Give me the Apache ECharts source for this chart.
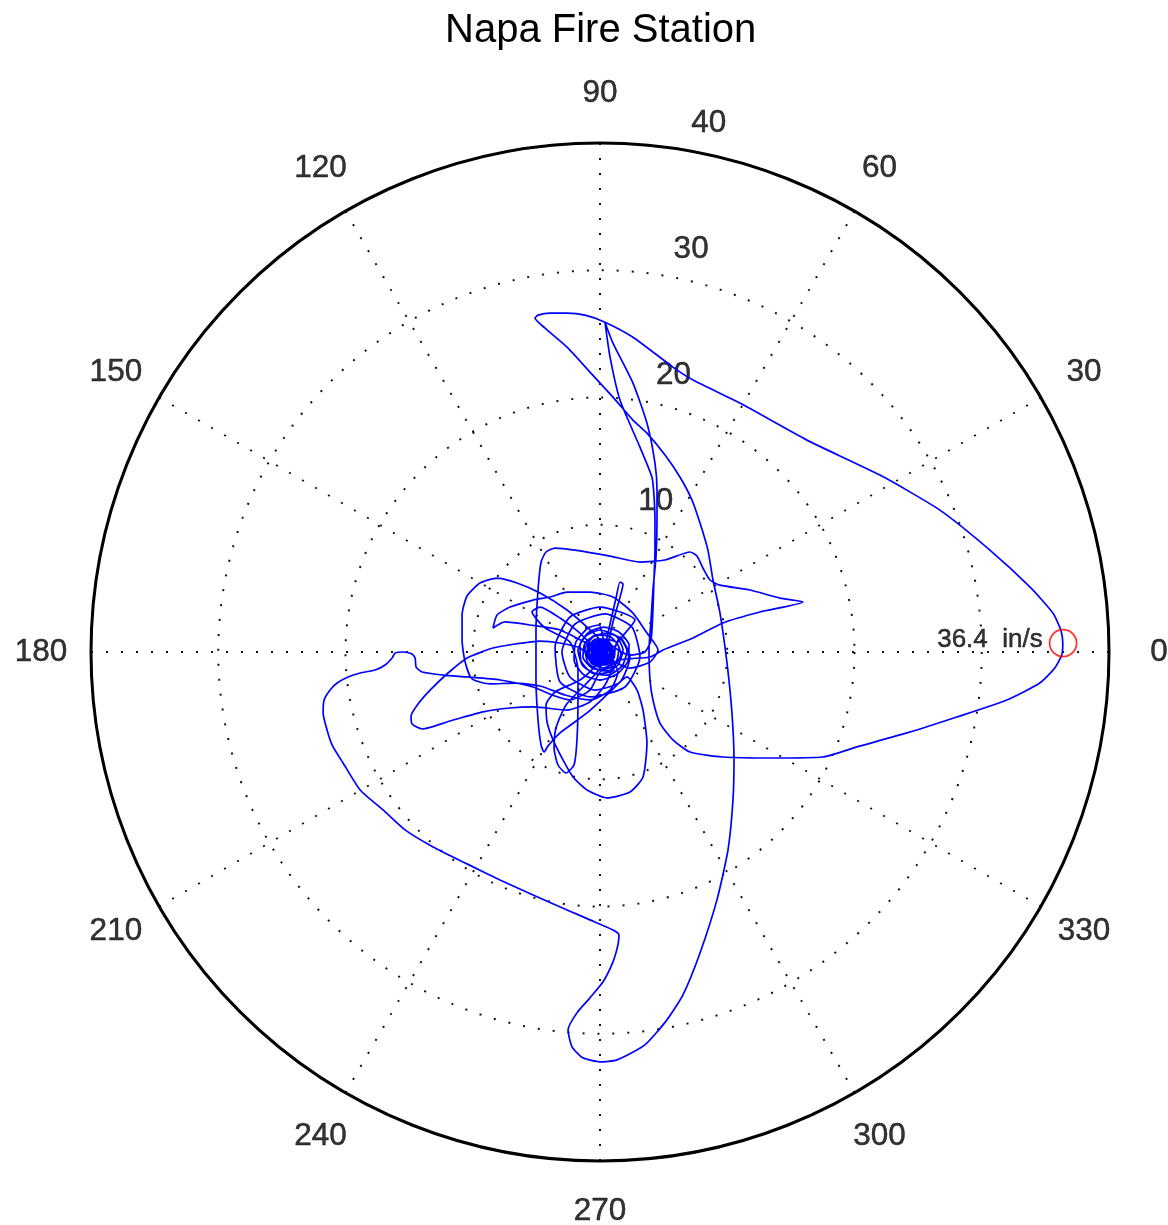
<!DOCTYPE html>
<html>
<head>
<meta charset="utf-8">
<script src="https://cdn.jsdelivr.net/npm/echarts@6/dist/echarts.min.js"></script>
<style>
html,body{margin:0;padding:0;background:#ffffff;}
#chart{width:1168px;height:1225px;}
</style>
</head>
<body>
<div id="chart"></div>
<script>
// ---------------- data ----------------
const chartTitle = 'Napa Fire Station';
const angleTicks = [0, 30, 60, 90, 120, 150, 180, 210, 240, 270, 300, 330];
const radialTicks = [10, 20, 30, 40];
const peakSpeed = 36.4;      // in/s
const peakAngle = 1.1;       // degrees
const speedUnit = 'in/s';

// horizontal particle-velocity path: [east, north] in in/s
const velocityPath = [
  // dense core
  [0,0],[0.39,0.24],[0.63,-0.16],[0.31,-0.55],[-0.24,-0.47],[-0.55,-0.08],[-0.39,0.39],[0.08,0.63],[0.55,0.47],[0.79,0],
  [0.55,-0.55],[0,-0.79],[-0.63,-0.55],[-0.86,0],[-0.55,0.63],[0.08,0.86],[0.71,0.63],[0.94,0.08],[0.71,-0.63],[0.16,-0.94],
  [-0.47,-0.79],[-0.94,-0.31],[-0.79,0.39],[-0.24,0.71],[0.31,0.39],[0.16,-0.16],[-0.24,0.16],[0,0.39],[0.47,0.08],[0.24,-0.39],
  [-0.31,-0.31],[-0.47,0.16],[-0.08,0.47],[0.39,0.31],[0.55,-0.24],[0.16,-0.55],[-0.39,-0.39],[-0.71,0.08],[-0.39,0.55],[0.16,0.71],
  [0.79,0.39],[1.02,-0.24],[0.63,-0.79],[-0.08,-1.02],[-0.79,-0.71],[-1.02,0.08],[-0.63,0.79],[0,1.02],[0.63,0.79],[0.39,0],
  [0.24,-0.16],[0.71,0.24],[0.47,0.79],[-0.16,0.63],[-0.63,0.16],[-0.47,-0.47],[0.16,-0.71],[0.79,-0.39],[1.02,0.31],[0.55,0.94],
  [-0.31,1.02],[-0.94,0.47],[-1.02,-0.31],[-0.39,-0.94],[0.47,-1.02],[1.10,-0.47],[1.18,0.47],[0.31,0.24],[-0.24,-0.16],[0.08,-0.39],
  [0.47,-0.08],[0.16,0.39],[-0.39,0.31],[-0.71,-0.24],[-0.24,-0.71],[0.55,-0.71],[0.86,0.08],[0.39,0.63],[-0.47,0.71],[-0.86,0.08],
  [0.31,0.16],[0.47,-0.24],[0.16,-0.47],[-0.31,-0.39],[-0.47,0],[-0.24,0.39],[0.24,0.47],[0.55,0.24],[0.63,-0.31],[0.24,-0.63],
  [-0.31,-0.63],[-0.63,-0.24],[-0.63,0.31],[-0.16,0.63],[0.39,0.63],[0.71,0.16],[0.08,0.08],[-0.08,-0.16],[0.24,-0.16],[0,0.24],
  // early scribble
  [0,0],[0.47,0.47],[1.02,0.16],[0.86,-0.63],[0.08,-0.94],[-0.63,-0.39],[-0.55,0.55],[0.31,1.02],[1.26,0.79],[1.65,-0.16],
  [1.10,-1.10],[0,-1.41],[-0.94,-0.86],[-1.18,0.24],[-0.55,1.18],[0.55,1.49],[1.57,1.10],[2.12,0.08],[1.73,-1.10],[0.63,-1.81],
  [-0.63,-1.65],[-1.49,-0.71],[-1.57,0.55],[-0.86,1.57],[0.31,1.96],[1.49,1.57],[2.28,0.55],[2.20,-0.71],[1.34,-1.73],[0,-2.20],
  [-1.26,-1.81],[-2.04,-0.63],[-1.89,0.79],[-0.94,1.89],[-0.08,2.12],[0.24,0.94],[-0.24,0],[0.39,-0.39],[0.71,0.31],[0,0.55],
  [-0.31,-0.24],[0.24,-0.71],[0.86,-0.24],[0.47,0.55],[-0.39,0.31],[-0.16,-0.63],[0.94,-0.79],[1.18,0.31],
  // medium loops around the core
  [1.57,1.18],[2.36,-0.39],[1.57,-2.36],[-0.39,-2.99],[-2.36,-1.96],[-2.99,0],[-1.96,2.20],[0.39,2.99],[2.51,1.96],[3.14,-0.39],
  [1.96,-2.75],[-0.79,-3.53],[-3.14,-2.36],[-3.53,0.39],[-2.36,2.75],[0,3.53],[2.75,2.51],[1.18,0.39],
  // north excursion and big east lobe
  [2.36,-0.24],[3.53,0],[4.01,0.94],[4.16,3.30],[4.24,5.66],[4.32,8.01],[4.32,10.37],[4.24,12.33],[4.08,13.75],[3.14,16.10],
  [1.57,19.80],[0.79,23.17],[0.39,25.92],[1.02,24.27],[2.59,21.13],[3.69,17.99],[4.32,14.85],[4.48,12.73],[4.48,10.37],[4.40,7.46],
  [4.16,4.87],[4.01,2.51],[3.85,0.16],[3.93,-2.20],[4.16,-3.77],[4.71,-5.58],[5.73,-6.91],[7.07,-7.86],[9.66,-8.25],[13.59,-8.33],
  [17.52,-8.25],[20.19,-7.46],[24.12,-6.36],[28.04,-5.11],[31.97,-3.77],[34.56,-2.44],[35.74,-1.26],[36.29,-0.24],[36.37,0.71],[36.21,1.73],
  [35.59,3.06],[33.78,5.11],[30.64,8.01],[26.71,11.15],[22.00,13.90],[16.26,16.65],[11.00,19.56],[7.31,21.37],[5.73,22.39],[2.59,24.74],
  [0.39,25.92],[-1.18,26.47],[-2.59,26.63],[-3.93,26.63],[-4.87,26.47],[-5.11,26.24],[-4.32,25.45],[-2.59,23.96],[-0.79,22.00],[1.02,20.03],
  [2.59,18.22],[3.69,17.20],[5.11,15.48],[6.28,13.75],[7.23,11.94],[7.86,10.13],[8.48,8.01],[8.88,5.66],[9.43,3.06],[9.98,-0.86],
  [10.37,-4.79],[10.53,-8.48],[10.45,-11.63],[10.06,-15.55],[9.19,-19.48],[7.86,-23.65],[6.52,-26.94],[5.26,-28.91],[3.53,-30.87],[1.34,-32.05],
  [0,-32.21],[-1.34,-31.89],[-2.20,-31.03],[-2.51,-29.69],[-1.81,-28.36],[-0.79,-27.18],[0.24,-25.92],[1.02,-24.35],[1.41,-23.02],[1.49,-22.23],
  [1.02,-21.84],[-0.79,-21.05],[-2.59,-20.27],[-5.26,-19.09],[-7.86,-17.91],[-10.45,-16.65],[-13.12,-15.32],[-15.32,-13.98],[-17.05,-12.41],[-18.85,-10.84],
  [-20.19,-8.72],[-21.05,-7.31],[-21.45,-6.13],[-21.76,-4.79],[-21.68,-3.77],[-21.21,-2.99],[-20.66,-2.44],[-19.80,-1.96],[-18.85,-1.65],[-17.67,-1.41],
  [-16.89,-1.02],[-16.34,-0.47],[-16.10,-0.08],[-15.48,0],[-14.77,-0.16],[-14.53,-0.47],[-14.45,-1.18],[-13.98,-1.57],[-12.33,-1.81],[-10.45,-1.96],
  [-7.86,-2.20],[-5.26,-2.75],[-3.77,-3.38],[-2.36,-3.77],[-0.79,-2.99],[0,-1.57],
  // east spike, box and south loop
  [1.57,-0.63],[3.93,-0.39],[4.95,0.16],[7.31,1.10],[9.66,2.28],[12.57,3.14],[15.95,3.93],[14.14,4.24],[11.78,4.87],[9.43,5.26],
  [8.64,5.66],[8.09,6.60],[7.62,7.54],[7.07,7.86],[5.11,7.23],[3.14,7.07],[0.79,7.54],[-1.96,8.01],[-3.53,8.17],[-4.24,7.86],
  [-4.63,7.07],[-4.87,4.87],[-5.03,1.73],[-5.03,-2.20],[-4.87,-5.34],[-4.63,-7.31],[-4.40,-7.86],[-4.08,-7.38],[-3.14,-6.36],[-1.02,-4.79],
  [0.79,-3.14],[2.12,-1.96],[2.91,-2.99],[3.38,-4.56],[3.69,-7.15],[3.38,-9.82],[2.36,-11.00],[0.55,-11.47],[-1.02,-10.84],[-2.12,-9.82],
  [-2.91,-8.48],[-3.69,-6.91],[-4.16,-5.50],[-4.24,-4.16],[-3.53,-3.14],[-1.57,-2.20],[-0.39,-1.02],
  // thin west lobe
  [-1.57,0.31],[-3.14,0.71],[-4.71,0.86],[-6.68,0.63],[-8.41,0.31],[-10.45,-0.47],[-11.94,-1.65],[-13.35,-2.99],[-14.30,-4.08],[-14.85,-5.03],
  [-14.77,-5.66],[-13.98,-6.05],[-11.78,-5.42],[-9.19,-4.71],[-7.07,-4.40],[-5.26,-4.32],[-2.59,-4.56],[-0.79,-3.93],[0.39,-2.59],[0.94,-1.26],
  // north-west loop
  [0,0.94],[-1.02,1.96],[-2.59,3.30],[-4.71,4.63],[-6.52,5.42],[-8.09,5.81],[-9.43,5.42],[-10.45,4.40],[-10.84,2.91],[-10.84,0.94],
  [-10.60,-0.79],[-10.06,-2.12],[-8.64,-2.51],[-6.68,-2.44],[-4.71,-2.67],[-2.75,-3.38],[-0.79,-3.77],[0.79,-2.99],[1.41,-1.57],
  // small inner loop
  [0.39,0],[-0.79,0.55],[-3.14,1.73],[-5.50,2.12],[-7.46,2.36],[-8.41,1.89],[-8.09,2.91],[-7.07,3.53],[-5.26,4.08],[-3.93,4.32],
  [-2.59,4.71],[-0.79,4.71],[1.02,4.32],[2.59,3.06],[3.69,1.49],[4.56,0.16],[3.93,-0.79],[2.36,-1.26],
  [-0.24,0.16],[-1.57,1.49],[-3.14,2.67],[-4.71,3.53],[-5.34,3.14],[-4.32,1.89],[-2.36,0.79],
  // south U
  [-1.73,-1.41],[-1.73,-3.77],[-1.81,-6.91],[-2.04,-8.88],[-2.67,-9.51],[-3.30,-8.88],[-3.61,-7.54],[-3.46,-5.97],[-2.67,-4.16],[-1.18,-2.59],[0,-1.26],
  // thin north spike
  [0.47,0.79],[0.86,2.51],[1.26,4.24],[1.57,5.50],[1.81,5.34],[1.49,4.01],[1.02,2.36],[0.55,0.55],
  // late scribble
  [-0.31,0.16],[-0.79,-0.47],[-0.16,-1.10],[0.71,-0.79],[1.02,0.08],[0.47,0.94],[-0.47,0.86],[-1.02,0.08],[-0.71,-0.86],[0.24,-1.26],
  [1.26,-0.79],[1.49,0.31],[0.86,1.18],[-0.24,1.34],[-1.18,0.71],[-1.34,-0.39],[-0.63,-1.26],[0.55,-1.49],[1.41,-1.02],[1.81,0.16],
  [1.26,1.26],[0,1.73],[-1.10,1.26],[-1.73,0.16],[-1.34,-1.10],[-0.16,-1.73],[1.10,-1.41],[0.31,-0.31],[-0.08,0.08],[0.24,0.39],[-0.16,-0.08]
];

// ---------------- layout ----------------
const CX = 600, CY = 652, R = 509, RMAX = 40;
const LABEL_R = RMAX * 559 / R;   // angle labels sit just outside the rim
const FONT = '"Liberation Sans", Arial, Helvetica, sans-serif';
const dotted = { color: '#111111', width: 2, type: [2, 13] };
const labelText = { color: '#000000', fontFamily: FONT, textBorderColor: '#000000', textBorderWidth: 0.5, textShadowBlur: 0 };

const chart = echarts.init(document.getElementById('chart'), null, { renderer: 'canvas' });

chart.setOption({
  backgroundColor: '#ffffff',
  animation: false,
  title: {
    text: chartTitle,
    left: 440,
    top: 6,
    textStyle: { fontFamily: FONT, fontSize: 40, fontWeight: 'normal', color: '#000' }
  },
  polar: { center: [CX, CY], radius: R },
  angleAxis: {
    type: 'value', min: 0, max: 360, interval: 30,
    startAngle: 0, clockwise: false,
    axisLine: { show: true, lineStyle: { color: '#000', width: 3 } },
    axisTick: { show: false },
    axisLabel: { show: false },
    splitLine: { show: true, lineStyle: dotted }
  },
  radiusAxis: {
    type: 'value', min: 0, max: RMAX, interval: 10,
    axisLine: { show: false }, axisTick: { show: false }, axisLabel: { show: false },
    splitLine: { show: true, lineStyle: dotted }
  },
  grid: { left: CX - R, top: CY - R, width: 2 * R, height: 2 * R, containLabel: false },
  xAxis: { type: 'value', min: -RMAX, max: RMAX, show: false },
  yAxis: { type: 'value', min: -RMAX, max: RMAX, show: false },
  series: [
    {
      name: 'angle labels', type: 'scatter', coordinateSystem: 'polar', clip: false,
      symbolSize: 0, silent: true, itemStyle: { color: '#000' },
      data: angleTicks.map(a => [LABEL_R, a]),
      label: Object.assign({ show: true, position: 'inside', fontSize: 31.5,
        formatter: p => String(p.value[1]) }, labelText)
    },
    {
      name: 'radius labels', type: 'scatter', coordinateSystem: 'polar', clip: false,
      symbolSize: 0, silent: true, itemStyle: { color: '#000' },
      data: radialTicks.map(v => [v, 82]),
      label: Object.assign({ show: true, position: 'inside', offset: [38, -25], fontSize: 31.5,
        formatter: p => String(p.value[0]) }, labelText)
    },
    {
      name: 'velocity', type: 'line', xAxisIndex: 0, yAxisIndex: 0,
      data: velocityPath, showSymbol: false, smooth: 0.2, clip: false,
      lineStyle: { color: '#0000ff', width: 1.7 }, z: 3
    },
    {
      name: 'peak', type: 'scatter', coordinateSystem: 'polar', clip: false,
      data: [[peakSpeed, peakAngle]],
      symbol: 'circle', symbolSize: 27,
      itemStyle: { color: 'rgba(0,0,0,0)', borderColor: '#ff0000', borderWidth: 1.8 },
      label: Object.assign({ show: true, position: 'left', distance: 6, offset: [0, -3], fontSize: 26,
        formatter: () => peakSpeed.toFixed(1) + '  ' + speedUnit }, labelText),
      z: 4
    }
  ]
});
</script>
</body>
</html>
